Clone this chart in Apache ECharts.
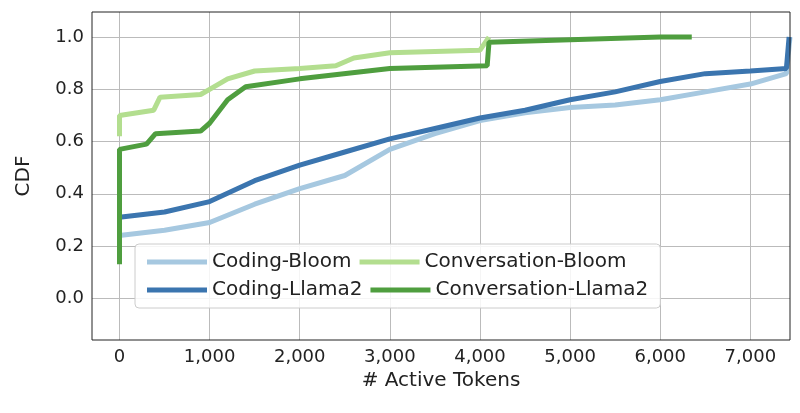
<!DOCTYPE html>
<html>
<head>
<meta charset="UTF-8">
<script src="https://cdn.jsdelivr.net/npm/echarts@6/dist/echarts.min.js"></script>
</head>
<body style="margin:0">
<div id="main" style="width:800px;height:413px;"></div>
<script>
// [tokens, cdf]
var codingBloom = [[0,0.15],[0,0.24],[500,0.26],[1000,0.29],[1500,0.36],[2000,0.42],[2500,0.47],[3000,0.57],[3500,0.63],[4000,0.68],[4500,0.71],[5000,0.73],[5500,0.74],[6000,0.76],[6500,0.79],[7000,0.82],[7400,0.86],[7440,1.0]];
var codingLlama = [[0,0.31],[500,0.33],[1000,0.37],[1500,0.45],[2000,0.51],[2500,0.56],[3000,0.61],[3500,0.65],[4000,0.69],[4500,0.72],[5000,0.76],[5500,0.79],[6000,0.83],[6500,0.86],[7000,0.87],[7400,0.88],[7430,1.0]];
var convBloom = [[0,0.62],[0,0.70],[380,0.72],[450,0.77],[900,0.78],[1000,0.80],[1200,0.84],[1500,0.87],[2000,0.88],[2400,0.89],[2600,0.92],[3000,0.94],[4000,0.95],[4100,1.0]];
var convLlama = [[0,0.13],[0,0.57],[300,0.59],[400,0.63],[900,0.64],[1000,0.67],[1200,0.76],[1400,0.81],[2000,0.84],[3000,0.88],[4080,0.89],[4100,0.98],[5000,0.99],[6000,1.0],[6350,1.0]];
var xTicks = [0, 1000, 2000, 3000, 4000, 5000, 6000, 7000];
var yTicks = [0, 0.2, 0.4, 0.6, 0.8, 1.0];

var chart = echarts.init(document.getElementById('main'));
function s(name, data, color) {
    return {name: name, type: 'line', data: data, showSymbol: false, symbol: 'none', z: 3,
        lineStyle: {width: 5, color: color}, itemStyle: {color: color}};
}
var grid = [].concat(
    yTicks.map(function (v) { return {yAxis: v}; }),
    xTicks.map(function (v) { return {xAxis: v}; })
);
chart.setOption({
    animation: false,
    grid: {left: 92, right: 10, top: 12, bottom: 73},
    legend: {
        data: ['Coding-Bloom', 'Conversation-Bloom', 'Coding-Llama2', 'Conversation-Llama2'],
        left: 135, top: 244, width: 640, itemGap: 8,
        itemWidth: 60, itemHeight: 5, icon: 'rect',
        backgroundColor: 'rgba(255,255,255,0.85)', borderColor: '#ccc', borderWidth: 1, borderRadius: 4,
        padding: [8, 12, 8, 12],
        textStyle: {fontSize: 20, color: '#222', width: 232, fontFamily: 'DejaVu Sans'}
    },
    xAxis: {
        type: 'value', min: -305, max: 7440,
        name: '# Active Tokens', nameLocation: 'middle', nameGap: 30,
        nameTextStyle: {fontSize: 20, color: '#222', fontFamily: 'DejaVu Sans'},
        axisLabel: {fontSize: 18, color: '#222', fontFamily: 'DejaVu Sans', customValues: xTicks},
        axisLine: {show: false}, axisTick: {customValues: xTicks, lineStyle: {color: '#222'}},
        splitLine: {show: false}
    },
    yAxis: {
        type: 'value', min: -0.16, max: 1.096,
        name: 'CDF', nameLocation: 'middle', nameGap: 58,
        nameTextStyle: {fontSize: 20, color: '#222', fontFamily: 'DejaVu Sans'},
        axisLabel: {fontSize: 18, color: '#222', fontFamily: 'DejaVu Sans', customValues: yTicks,
            formatter: function (v) { return v.toFixed(1); }},
        axisTick: {customValues: yTicks, lineStyle: {color: '#222'}},
        axisLine: {show: false},
        splitLine: {show: false}
    },
    graphic: [{type: 'rect', shape: {x: 92, y: 12, width: 698, height: 328}, style: {fill: 'none', stroke: '#222', lineWidth: 1}, silent: true, z: 100}],
    series: [
        {type: 'line', data: [], z: 1, markLine: {symbol: 'none', silent: true, label: {show: false}, z: 1,
            lineStyle: {color: '#bbb', type: 'solid', width: 1}, data: grid}},
        s('Coding-Bloom', codingBloom, '#a6c8e0'),
        s('Coding-Llama2', codingLlama, '#3b75af'),
        s('Conversation-Bloom', convBloom, '#b3de8f'),
        s('Conversation-Llama2', convLlama, '#4f9e3f')
    ]
});
</script>
</body>
</html>
